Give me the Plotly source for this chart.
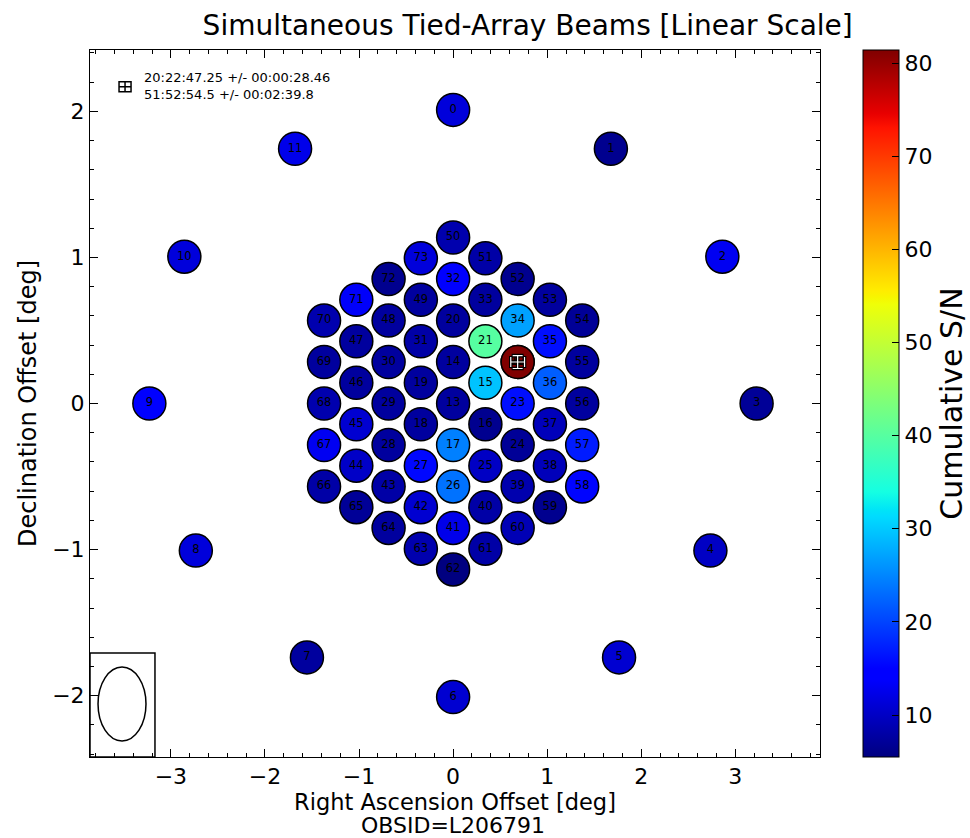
import numpy as np
import plotly.graph_objects as go

# Beam numbers, offsets from the pointing centre [deg] and cumulative S/N
beam_id = list(range(74))

ra_offset = [
    0.000, 1.677, 2.862, 3.226, 2.735, 1.764, 0.000, -1.554, -2.735, -3.229, -2.857, -1.680,
    0.686,
    0.000,
    0.000, 0.343, 0.343, 0.000, -0.343, -0.343,
    0.000, 0.343, 0.686, 0.686, 0.686, 0.343, 0.000, -0.343, -0.686, -0.686, -0.686, -0.343,
    0.000, 0.343, 0.686, 1.029, 1.029, 1.029, 1.029, 0.686, 0.343, 0.000, -0.343, -0.686,
    -1.029, -1.029, -1.029, -1.029, -0.686, -0.343,
    0.000, 0.343, 0.686, 1.029, 1.372, 1.372, 1.372, 1.372, 1.372, 1.029, 0.686, 0.343,
    0.000, -0.343, -0.686, -1.029, -1.372, -1.372, -1.372, -1.372, -1.372, -1.029, -0.686, -0.343,
]

dec_offset = [
    2.010, 1.744, 1.005, 0.000, -1.007, -1.738, -2.010, -1.738, -1.007, 0.000, 1.005, 1.744,
    0.284,
    0.000,
    0.284, 0.142, -0.142, -0.284, -0.142, 0.142,
    0.568, 0.426, 0.284, 0.000, -0.284, -0.426, -0.568, -0.426, -0.284, 0.000, 0.284, 0.426,
    0.852, 0.710, 0.568, 0.426, 0.142, -0.142, -0.426, -0.568, -0.710, -0.852, -0.710, -0.568,
    -0.426, -0.142, 0.142, 0.426, 0.568, 0.710,
    1.136, 0.994, 0.852, 0.710, 0.568, 0.284, 0.000, -0.284, -0.568, -0.710, -0.852, -0.994,
    -1.136, -0.994, -0.852, -0.710, -0.568, -0.284, 0.000, 0.284, 0.568, 0.710, 0.852, 0.994,
]

snr = [
    11.5, 6.5, 13.0, 7.0, 10.0, 10.8, 10.8, 7.5, 11.5, 14.0, 11.5, 12.5,
    81.4,
    7.5,
    7.5, 29.5, 6.5, 24.5, 7.5, 7.5,
    7.5, 40.0, 75.0, 16.0, 7.0, 10.0, 23.5, 15.5, 7.5, 7.5, 7.5, 8.0,
    14.0, 7.5, 27.0, 16.0, 22.0, 9.3, 9.3, 8.5, 8.0, 12.5, 10.8, 8.0,
    10.2, 10.8, 7.5, 7.5, 7.5, 7.5,
    8.5, 8.0, 6.5, 7.5, 7.0, 7.5, 7.5, 17.0, 15.3, 6.5, 9.0, 8.0,
    5.5, 8.5, 7.5, 7.0, 8.0, 13.0, 8.5, 7.5, 8.5, 13.5, 6.5, 11.5,
]

# Fitted source position with its uncertainty
src_ra_str = "20:22:47.25 +/- 00:00:28.46"
src_dec_str = "51:52:54.5 +/- 00:02:39.8"
src_dec_deg = 51 + 52 / 60 + 54.5 / 3600
src_ra = [0.686]
src_dec = [0.284]
# RA error (time seconds) converted to an on-sky offset in degrees
src_ra_err = [28.46 * 15.0 / 3600.0 * np.cos(np.radians(src_dec_deg))]
src_dec_err = [(2 * 60 + 39.8) / 3600.0]

obsid = "L206791"

# matplotlib "jet" colour map
_jet_r = [(0, 0), (0.35, 0), (0.66, 1), (0.89, 1), (1, 0.5)]
_jet_g = [(0, 0), (0.125, 0), (0.375, 1), (0.64, 1), (0.91, 0), (1, 0)]
_jet_b = [(0, 0.5), (0.11, 1), (0.34, 1), (0.65, 0), (1, 0)]
_stops = sorted({p for seg in (_jet_r, _jet_g, _jet_b) for p, _ in seg})


def _chan(seg, t):
    return float(np.interp(t, [p for p, _ in seg], [v for _, v in seg]))


jet = [[t, "rgb(%d,%d,%d)" % (round(255 * _chan(_jet_r, t)),
                              round(255 * _chan(_jet_g, t)),
                              round(255 * _chan(_jet_b, t)))] for t in _stops]

# brightest beams drawn last so they sit on top
order = np.argsort(np.array(snr), kind="stable")
xs = [ra_offset[i] for i in order]
ys = [dec_offset[i] for i in order]
cs = [snr[i] for i in order]
labels = [str(beam_id[i]) for i in order]

FONT = "DejaVu Sans"

fig = go.Figure()
fig.add_trace(go.Scatter(
    x=xs, y=ys, mode="markers+text", text=labels,
    textposition="middle center",
    textfont=dict(family=FONT, size=11.5, color="black"),
    marker=dict(
        size=33, color=cs, colorscale=jet,
        line=dict(color="black", width=1.5),
        colorbar=dict(
            thickness=36, len=1.0, lenmode="fraction", y=0.5, yanchor="middle",
            x=1.059, xanchor="left", xpad=0, ypad=0,
            outlinewidth=1, outlinecolor="black",
            ticks="inside", ticklen=7, tickcolor="black", tickwidth=1,
            tick0=0, dtick=10,
            tickfont=dict(family=FONT, size=22, color="black"),
            title=dict(text="Cumulative S/N", side="right",
                       font=dict(family=FONT, size=30, color="black")),
        ),
    ),
    hoverinfo="skip", showlegend=False,
))

# source position with error bars: dark outline under a white cross
for col, thick, cap in (("black", 3.5, 6), ("white", 1.2, 5)):
    fig.add_trace(go.Scatter(
        x=src_ra, y=src_dec, mode="markers",
        marker=dict(size=1, color="rgba(0,0,0,0)"),
        error_x=dict(type="data", array=src_ra_err, color=col, thickness=thick, width=cap),
        error_y=dict(type="data", array=src_dec_err, color=col, thickness=thick, width=cap),
        hoverinfo="skip", showlegend=False,
    ))

# legend key for the source position (top-left corner)
key_x, key_y = 0.048, 0.948
for s in (
    dict(type="rect", x0=-6, x1=6, y0=-5, y1=5),
    dict(type="line", x0=-6, x1=6, y0=0, y1=0),
    dict(type="line", x0=0, x1=0, y0=-5, y1=5),
):
    fig.add_shape(xref="paper", yref="paper", xsizemode="pixel", ysizemode="pixel",
                  xanchor=key_x, yanchor=key_y, line=dict(color="black", width=1.5), **s)
fig.add_annotation(xref="paper", yref="paper", x=0.0712, y=0.9604, text=src_ra_str,
                   showarrow=False, xanchor="left", yanchor="middle",
                   font=dict(family=FONT, size=13, color="black"))
fig.add_annotation(xref="paper", yref="paper", x=0.0712, y=0.9364, text=src_dec_str,
                   showarrow=False, xanchor="left", yanchor="middle",
                   font=dict(family=FONT, size=13, color="black"))

# beam-shape inset in the lower-left corner
fig.add_shape(type="rect", xref="paper", yref="paper", x0=0, x1=0.089, y0=0, y1=0.147,
              line=dict(color="black", width=1.5))
fig.add_shape(type="circle", xref="paper", yref="paper", x0=0.011, x1=0.0767,
              y0=0.0226, y1=0.1273, line=dict(color="black", width=1.5))

# second line of the x-axis label
fig.add_annotation(xref="paper", yref="paper", x=0.497, y=-0.0962,
                   text="OBSID=" + obsid, showarrow=False,
                   xanchor="center", yanchor="middle",
                   font=dict(family=FONT, size=22, color="black"))

axis_common = dict(
    showline=True, linecolor="black", linewidth=1, mirror="ticks",
    ticks="inside", ticklen=8, tickwidth=1, tickcolor="black",
    minor=dict(ticks="inside", ticklen=4, tickwidth=1, tickcolor="black", dtick=0.2),
    showgrid=False, zeroline=False, dtick=1, tick0=0,
    tickfont=dict(family=FONT, size=22, color="black"),
)

fig.update_xaxes(
    range=[-3.86, 3.90], **axis_common,
    title=dict(text="Right Ascension Offset [deg]",
               font=dict(family=FONT, size=22.5, color="black"), standoff=1),
)
fig.update_yaxes(
    range=[-2.42, 2.42], **axis_common,
    title=dict(text="Declination Offset [deg]",
               font=dict(family=FONT, size=24, color="black"), standoff=8),
)

fig.update_layout(
    width=970, height=838,
    margin=dict(l=90, r=150, t=50, b=81, autoexpand=False),
    paper_bgcolor="white", plot_bgcolor="white",
    font=dict(family=FONT, color="black"),
    title=dict(text="Simultaneous Tied-Array Beams [Linear Scale]",
               x=0.544, xanchor="center", y=0.970, yanchor="middle",
               font=dict(family=FONT, size=28, color="black")),
)

fig.write_html("out.html")
